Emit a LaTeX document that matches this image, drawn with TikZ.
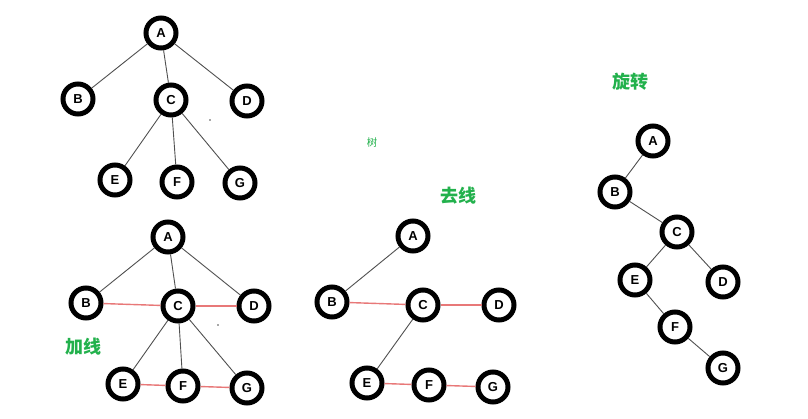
\documentclass[tikz,border=0pt]{standalone}
\usepackage{fontspec}
\setmainfont{Liberation Sans}
\newfontfamily\cjk{Noto Sans CJK SC}
\definecolor{pgreen}{HTML}{22B14C}
\definecolor{pred}{HTML}{E87878}
\definecolor{pgray}{HTML}{505050}
\begin{document}
\begin{tikzpicture}[x=1pt,y=-1pt,
  vnode/.style={circle,draw=black,line width=5pt,minimum size=30pt,inner sep=0pt,fill=white,font=\fontsize{13}{15}\selectfont\bfseries},
  tedge/.style={draw=pgray,line width=0.9pt},
  redge/.style={draw=pred,line width=1.4pt},
  glabel/.style={text=pgreen,font=\cjk\bfseries\fontsize{18}{20}\selectfont,inner sep=0pt}]
\useasboundingbox[fill=white] (0,0) rectangle (808,419);
% top tree
\node[vnode] (a1) at (161,33) {A};
\node[vnode] (b1) at (78,99) {B};
\node[vnode] (c1) at (171,100) {C};
\node[vnode] (d1) at (247,101) {D};
\node[vnode] (e1) at (115,180) {E};
\node[vnode] (f1) at (177,182) {F};
\node[vnode] (g1) at (240,183) {G};
\draw[tedge] (a1) -- (b1);
\draw[tedge] (a1) -- (c1);
\draw[tedge] (a1) -- (d1);
\draw[tedge] (c1) -- (e1);
\draw[tedge] (c1) -- (f1);
\draw[tedge] (c1) -- (g1);
% bottom-left tree
\node[vnode] (a2) at (168,237) {A};
\node[vnode] (b2) at (86,303) {B};
\node[vnode] (c2) at (178,306) {C};
\node[vnode] (d2) at (254,306) {D};
\node[vnode] (e2) at (123,384) {E};
\node[vnode] (f2) at (183,386) {F};
\node[vnode] (g2) at (247,388) {G};
\draw[tedge] (a2) -- (b2);
\draw[tedge] (a2) -- (c2);
\draw[tedge] (a2) -- (d2);
\draw[tedge] (c2) -- (e2);
\draw[tedge] (c2) -- (f2);
\draw[tedge] (c2) -- (g2);
\draw[redge] (b2) -- (c2);
\draw[redge] (c2) -- (d2);
\draw[redge] (e2) -- (f2);
\draw[redge] (f2) -- (g2);
\node[glabel] (l1) at (83,347) {加线};
% middle tree
\node[vnode] (a3) at (413,236) {A};
\node[vnode] (b3) at (332,302) {B};
\node[vnode] (c3) at (423,305) {C};
\node[vnode] (d3) at (499,305) {D};
\node[vnode] (e3) at (367,383) {E};
\node[vnode] (f3) at (429,385) {F};
\node[vnode] (g3) at (493,387) {G};
\draw[tedge] (a3) -- (b3);
\draw[tedge] (c3) -- (e3);
\draw[redge] (b3) -- (c3);
\draw[redge] (c3) -- (d3);
\draw[redge] (e3) -- (f3);
\draw[redge] (f3) -- (g3);
\node[glabel] (l2) at (458,196) {去线};
\node[glabel,font=\cjk\fontsize{10.5}{12}\selectfont] (l3) at (372,143) {树};
% right tree
\node[glabel] (l4) at (630,82) {旋转};
\node[vnode] (a4) at (653,141) {A};
\node[vnode] (b4) at (615,192) {B};
\node[vnode] (c4) at (677,232) {C};
\node[vnode] (e4) at (635,280) {E};
\node[vnode] (d4) at (723,282) {D};
\node[vnode] (f4) at (675,327) {F};
\node[vnode] (g4) at (723,368) {G};
\draw[tedge] (a4) -- (b4);
\draw[tedge] (b4) -- (c4);
\draw[tedge] (c4) -- (e4);
\draw[tedge] (c4) -- (d4);
\draw[tedge] (e4) -- (f4);
\draw[tedge] (f4) -- (g4);
% stray dots
\fill[pgray] (210,120) circle (0.8);
\fill[pgray] (218,325) circle (0.8);
\end{tikzpicture}
\end{document}
